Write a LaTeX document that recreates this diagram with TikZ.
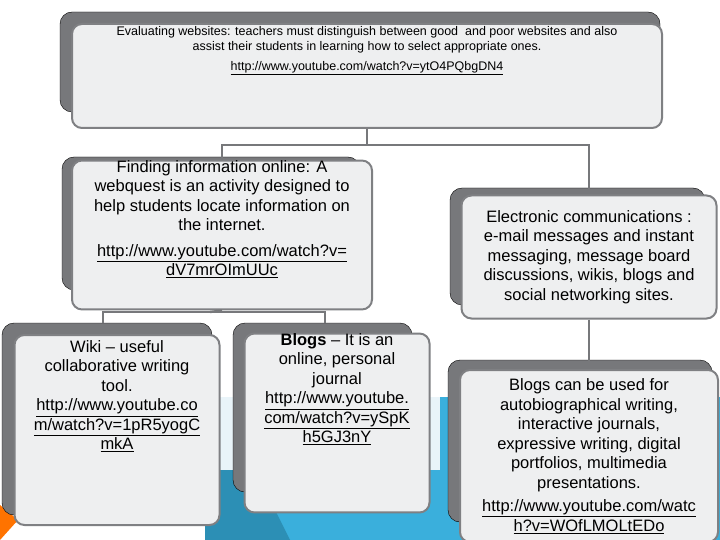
\documentclass[tikz,border=0pt]{standalone}
\usepackage{fontspec}
\setmainfont{Liberation Sans}
\definecolor{shadc}{HTML}{77787B}
\definecolor{bordc}{HTML}{7F8083}
\definecolor{boxc}{HTML}{EEEFF0}
\definecolor{bluec}{HTML}{3AAFDC}
\definecolor{tealc}{HTML}{2C8FB5}
\definecolor{palec}{HTML}{E9F4F9}
\begin{document}
\begin{tikzpicture}[x=1pt,y=-1pt,
  shad/.style={fill=shadc, rounded corners=12pt},
  front/.style={draw=bordc, line width=2pt, fill=boxc, rounded corners=10pt, inner sep=0pt, align=center},
  big/.style={font=\fontsize{16.5}{19.5}\selectfont},
  conn/.style={draw=shadc, line width=2.4pt}]
\useasboundingbox (0,0) rectangle (720,540);
\fill[white] (0,0) rectangle (720,540);
% background
\fill[bluec] (205,397) rectangle (720,540);
\fill[palec] (205,397) rectangle (440,470);
\fill[tealc] (205,470) -- (255,470) -- (290,540) -- (205,540) -- cycle;
\fill[orange!90!red] (0,505) -- (18,520) -- (0,540) -- cycle;
% shadows
\draw[shad] (60,12) rectangle (660,112);
\draw[shad] (62,157) rectangle (360,290);
\draw[shad] (450,188) rectangle (705,305);
\draw[shad] (448,360) rectangle (712,522);
\draw[shad] (2,323) rectangle (212,515);
\draw[shad] (233,323) rectangle (412,492);
% boxes
\node[front, minimum width=590pt, minimum height=104pt, font=\fontsize{12.5}{15}\selectfont] (b1) at (367,76)
 {Evaluating websites: teachers must distinguish between good \ and poor websites and also\\ assist their students in learning how to select appropriate ones.\\[5pt]\underline{http://www.youtube.com/watch?v=ytO4PQbgDN4}\\[40pt]};
\node[front, big, minimum width=300pt, minimum height=134pt] (b2) at (222,235)
 {Finding information online: A\\ webquest is an activity designed to\\ help students locate information on\\ the internet.\\[6pt]\underline{http://www.youtube.com/watch?v=}\\\underline{dV7mrOImUUc}\\[14pt]};
\node[front, big, minimum width=255pt, minimum height=123pt] (b3) at (589,257)
 {Electronic communications :\\ e-mail messages and instant\\ messaging, message board\\ discussions, wikis, blogs and\\ social networking sites.};
\node[front, big, minimum width=258pt, minimum height=172pt] (b6) at (589,456)
 {Blogs can be used for\\ autobiographical writing,\\ interactive journals,\\ expressive writing, digital\\ portfolios, multimedia\\ presentations.\\[4pt]\underline{http://www.youtube.com/watc}\\\underline{h?v=WOfLMOLtEDo}};
\node[front, big, minimum width=205pt, minimum height=190pt] (b4) at (117,430)
 {Wiki -- useful\\ collaborative writing\\ tool.\\\underline{http://www.youtube.co}\\\underline{m/watch?v=1pR5yogC}\\\underline{mkA}\\[50pt]};
\node[front, big, minimum width=185pt, minimum height=177pt] (b5) at (337,423)
 {\textbf{Blogs} -- It is an\\ online, personal\\ journal\\\underline{http://www.youtube.}\\\underline{com/watch?v=ySpK}\\\underline{h5GJ3nY}\\[50pt]};
% connectors
\coordinate (j1) at (367,145);
\coordinate (j2) at (210,312);
\coordinate (c4) at (103,323);
\coordinate (c5) at (325,323);
\draw[conn] (b1.south) -- (j1) -| (b2.north);
\draw[conn] (j1) -| (b3.north);
\draw[conn] (b3.south) -- (b6.north);
\draw[conn] (b2.south) -- (j2);
\draw[conn] (c4) |- (j2) -| (c5);
\end{tikzpicture}
\end{document}
